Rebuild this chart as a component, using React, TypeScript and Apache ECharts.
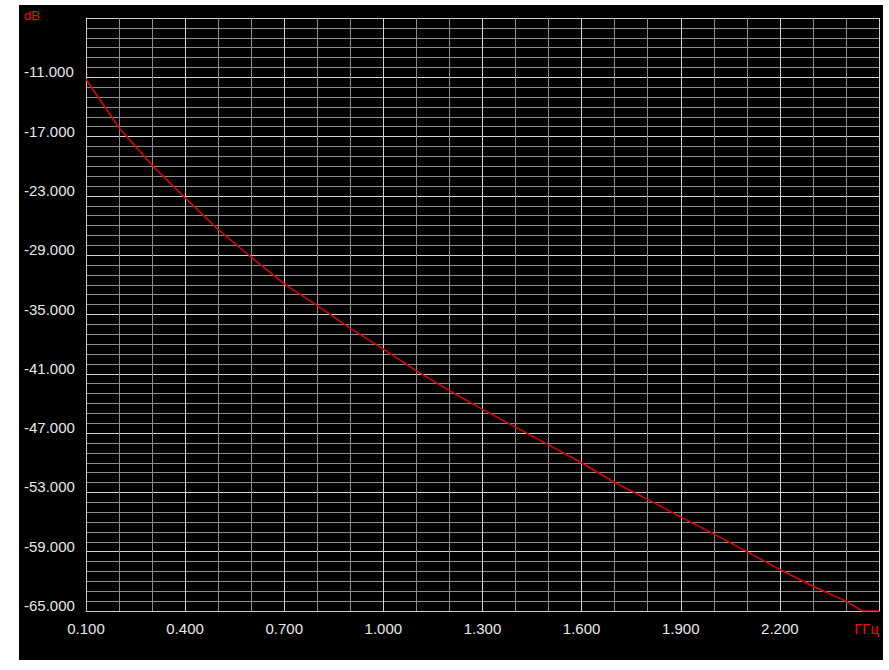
import React, { useEffect, useRef } from "react";
import * as echarts from "echarts";

// Frequency (GHz) and attenuation (dB)
const freqGHz = [0.1, 0.2, 0.3, 0.4, 0.5, 0.6, 0.7, 0.8, 0.9, 1.0, 1.1, 1.2, 1.3, 1.4, 1.5, 1.6, 1.7, 1.8, 1.9, 2.0, 2.1, 2.2, 2.3, 2.4, 2.45, 2.5];
const lossDb = [-11.2, -16.1, -19.9, -23.2, -26.4, -29.2, -31.9, -34.1, -36.4, -38.5, -40.7, -42.7, -44.6, -46.4, -48.2, -50.0, -52.0, -53.7, -55.5, -57.2, -59.0, -60.8, -62.5, -64.0, -65.0, -65.0];

const xMin = 0.1;
const xMax = 2.5;
const xStep = 0.3;
const yMin = -65;
const yMax = -5;
const yStep = 6;
const xUnit = "ГГц";
const yUnit = "dB";

const FONT = "'Liberation Sans Narrow', 'Arial Narrow', 'Liberation Sans', Arial, sans-serif";

export default function App() {
  const ref = useRef<HTMLDivElement>(null);
  useEffect(() => {
    if (!ref.current) return;
    const chart = echarts.init(ref.current, undefined, { renderer: "svg" });
    const data = freqGHz.map((f, i) => [f, lossDb[i]]);
    chart.setOption({
      animation: false,
      backgroundColor: "#000000",
      grid: { left: 67, top: 13, right: 4, bottom: 49, outerBoundsMode: "none" },
      xAxis: {
        type: "value",
        min: xMin,
        max: xMax,
        interval: xStep,
        axisLine: { show: true, lineStyle: { color: "#c8c8c8", width: 1 } },
        axisTick: { show: false },
        minorTick: { show: false, splitNumber: 3 },
        splitLine: { show: true, lineStyle: { color: "#d2d2d2", width: 1 } },
        minorSplitLine: { show: true, lineStyle: { color: "#8c8c8c", width: 1 } },
        axisLabel: {
          color: "#e8e8e8",
          fontFamily: FONT,
          fontSize: 15,
          margin: 10,
          alignMaxLabel: "right",
          formatter: (v: number) => (Math.abs(v - xMax) < 1e-6 ? `{u|${xUnit}}` : v.toFixed(3)),
          rich: { u: { color: "#ff0000", fontFamily: FONT, fontSize: 15 } },
        },
      },
      yAxis: {
        type: "value",
        min: yMin,
        max: yMax,
        interval: yStep,
        axisLine: { show: true, lineStyle: { color: "#c8c8c8", width: 1 } },
        axisTick: { show: false },
        minorTick: { show: false, splitNumber: 6 },
        splitLine: { show: true, lineStyle: { color: "#d2d2d2", width: 1 } },
        minorSplitLine: { show: true, lineStyle: { color: "#8c8c8c", width: 1 } },
        axisLabel: {
          color: "#e8e8e8",
          fontFamily: FONT,
          fontSize: 15,
          lineHeight: 11,
          align: "left",
          verticalAlign: "bottom",
          margin: 62,
          formatter: (v: number) => (Math.abs(v - yMax) < 1e-6 ? `{u|${yUnit}}` : v.toFixed(3)),
          rich: { u: { color: "#ff0000", fontFamily: FONT, fontSize: 13, lineHeight: 5 } },
        },
      },
      series: [
        {
          type: "line",
          data,
          showSymbol: false,
          smooth: false,
          clip: true,
          lineStyle: { color: "#e00000", width: 1.5 },
          itemStyle: { color: "#e00000" },
        },
      ],
    });
    return () => chart.dispose();
  }, []);
  return (
    <div style={{ position: "absolute", left: 0, top: 0, width: 889, height: 670, background: "#ffffff" }}>
      <div ref={ref} style={{ position: "absolute", left: 19, top: 5, width: 864, height: 655 }} />
    </div>
  );
}
